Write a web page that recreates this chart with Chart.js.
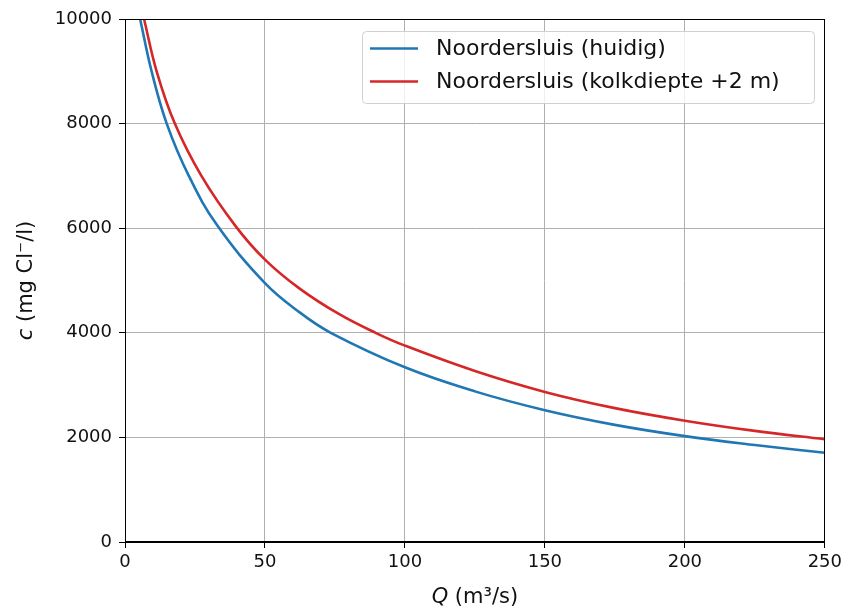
<!DOCTYPE html>
<html>
<head>
<meta charset="utf-8">
<script src="https://cdn.jsdelivr.net/npm/chart.js@4.4.1/dist/chart.umd.min.js"></script>
<style>
  html, body { margin: 0; padding: 0; background: #fff; }
  #c { display: block; }
</style>
</head>
<body>
<canvas id="c" width="846" height="609"></canvas>
<script>
// values
const seriesLabels = ['Noordersluis (huidig)', 'Noordersluis (kolkdiepte +2 m)'];
const qHuidig = [5.4, 9.5, 14.9, 22.8, 33, 50, 62.4, 73.5, 100, 125, 150, 175, 200, 225, 250];
const cHuidig = [10000, 9000, 8000, 7000, 6050, 4950, 4390, 4000, 3340, 2880, 2520, 2240, 2025, 1855, 1705];
const qKolk = [6.8, 11.3, 17.8, 27.3, 39.5, 50, 62.4, 76.7, 89.7, 100, 125, 150, 175, 200, 225, 250];
const cKolk = [10000, 9000, 8000, 7000, 6040, 5400, 4845, 4350, 3995, 3755, 3270, 2870, 2560, 2320, 2125, 1965];
const xTicks = [0, 50, 100, 150, 200, 250];
const yTicks = [0, 2000, 4000, 6000, 8000, 10000];
const colors = ['#1f77b4', '#d62728'];

const font = 'DejaVu Sans';

function toPoints(xs, ys) {
    return xs.map((x, i) => ({ x: x, y: ys[i] }));
}

// top/right spine, legend in the corner, axis titles with italic symbol
const extras = {
    id: 'extras',
    afterDraw(chart) {
        const ctx = chart.ctx;
        const a = chart.chartArea;
        ctx.save();
        ctx.strokeStyle = '#000';
        ctx.lineWidth = 1;
        ctx.strokeRect(Math.round(a.left) + 0.5, Math.round(a.top) + 0.5,
            Math.round(a.right - a.left) - 1, Math.round(a.bottom - a.top) - 1);

        // legend box
        const bx = 362, by = 31, bw = 452, bh = 72;
        ctx.beginPath();
        ctx.roundRect(bx + 0.5, by + 0.5, bw, bh, 4);
        ctx.fillStyle = 'rgba(255,255,255,0.8)';
        ctx.fill();
        ctx.strokeStyle = '#d0d0d0';
        ctx.stroke();
        ctx.font = '22px "' + font + '"';
        ctx.textBaseline = 'middle';
        ctx.textAlign = 'left';
        chart.data.datasets.forEach((ds, i) => {
            const yy = 48.5 + i * 33;
            ctx.strokeStyle = ds.borderColor;
            ctx.lineWidth = 2.6;
            ctx.beginPath();
            ctx.moveTo(370, yy);
            ctx.lineTo(418, yy);
            ctx.stroke();
            ctx.fillStyle = '#111';
            ctx.fillText(ds.label, 436, yy + 1);
        });

        // x title
        ctx.font = 'italic 21px "' + font + '"';
        const q = 'Q';
        const qRest = ' (m³/s)';
        const wq = ctx.measureText(q).width;
        ctx.font = '21px "' + font + '"';
        const wr = ctx.measureText(qRest).width;
        let sx = (a.left + a.right) / 2 - (wq + wr) / 2;
        ctx.textBaseline = 'alphabetic';
        ctx.font = 'italic 21px "' + font + '"';
        ctx.fillText(q, sx, 603);
        ctx.font = '21px "' + font + '"';
        ctx.fillText(qRest, sx + wq, 603);

        // y title
        ctx.translate(32, (a.top + a.bottom) / 2);
        ctx.rotate(-Math.PI / 2);
        ctx.font = 'italic 21px "' + font + '"';
        const cc = 'c';
        const cRest = ' (mg Cl⁻/l)';
        const wc = ctx.measureText(cc).width;
        ctx.font = '21px "' + font + '"';
        const wcr = ctx.measureText(cRest).width;
        sx = -(wc + wcr) / 2;
        ctx.font = 'italic 21px "' + font + '"';
        ctx.fillText(cc, sx, 0);
        ctx.font = '21px "' + font + '"';
        ctx.fillText(cRest, sx + wc, 0);
        ctx.restore();
    }
};

const chart = new Chart(document.getElementById('c'), {
    type: 'scatter',
    data: {
        datasets: [{
            label: seriesLabels[0],
            data: toPoints(qHuidig, cHuidig),
            borderColor: colors[0],
            backgroundColor: colors[0],
            borderWidth: 2.6,
            showLine: true,
            pointRadius: 0,
            tension: 0.4
        }, {
            label: seriesLabels[1],
            data: toPoints(qKolk, cKolk),
            borderColor: colors[1],
            backgroundColor: colors[1],
            borderWidth: 2.6,
            showLine: true,
            pointRadius: 0,
            tension: 0.4
        }]
    },
    options: {
        responsive: false,
        animation: false,
        devicePixelRatio: 1,
        layout: { padding: { left: 0, top: 19, right: 20, bottom: 0 } },
        plugins: {
            legend: { display: false },
            tooltip: { enabled: false }
        },
        scales: {
            x: {
                type: 'linear',
                min: 0,
                max: 250,
                afterBuildTicks: (s) => { s.ticks = xTicks.map(v => ({ value: v })); },
                afterFit: (s) => { s.height = 67; },
                grid: { color: '#b0b0b0', lineWidth: 1, tickColor: '#000', tickLength: 6 },
                border: { color: '#000', width: 1 },
                ticks: { color: '#111', padding: 4, maxRotation: 0, font: { family: font, size: 18 } }
            },
            y: {
                type: 'linear',
                min: 0,
                max: 10000,
                afterBuildTicks: (s) => { s.ticks = yTicks.map(v => ({ value: v })); },
                afterFit: (s) => { s.width = 125; },
                grid: { color: '#b0b0b0', lineWidth: 1, tickColor: '#000', tickLength: 6 },
                border: { color: '#000', width: 1 },
                ticks: { color: '#111', padding: 7, font: { family: font, size: 18 },
                    callback: (v) => String(v) }
            }
        }
    },
    plugins: [extras]
});
</script>
</body>
</html>
